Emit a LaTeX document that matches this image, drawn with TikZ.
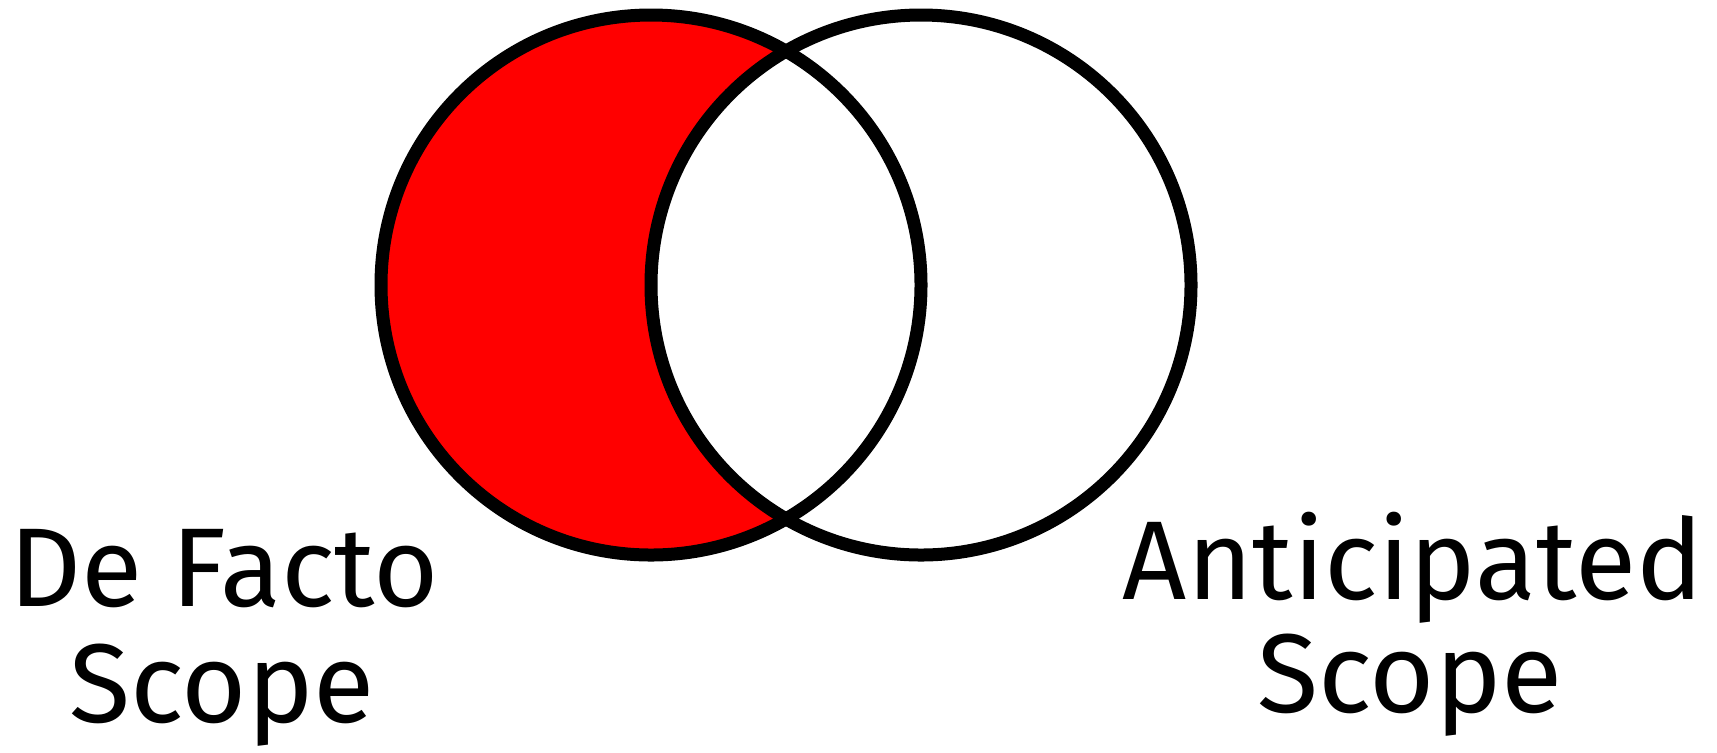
\documentclass[tikz,border=0pt]{standalone}
\usepackage{fontspec}
\setmainfont{Fira Sans}
\begin{document}
\begin{tikzpicture}[x=0.5pt,y=-0.5pt,
  ring/.style={draw=black,line width=6.5pt},
  lbl/.style={anchor=base,inner sep=0pt,font=\fontsize{56}{58}\selectfont}]
\useasboundingbox (0,0) rectangle (1717,752);
\coordinate (cl) at (651,285);
\coordinate (cr) at (921,285);
\fill[red] (cl) circle[radius=270];
\fill[white] (cr) circle[radius=270];
\draw[ring] (cl) circle[radius=270];
\draw[ring] (cr) circle[radius=270];
\node[lbl] (dfa) at (224,606) {De Facto};
\node[lbl] (dfb) at (222,722) {Scope};
\node[lbl] (ana) at (1413,599) {Anticipated};
\node[lbl] (anb) at (1410,712) {Scope};
\end{tikzpicture}
\end{document}
